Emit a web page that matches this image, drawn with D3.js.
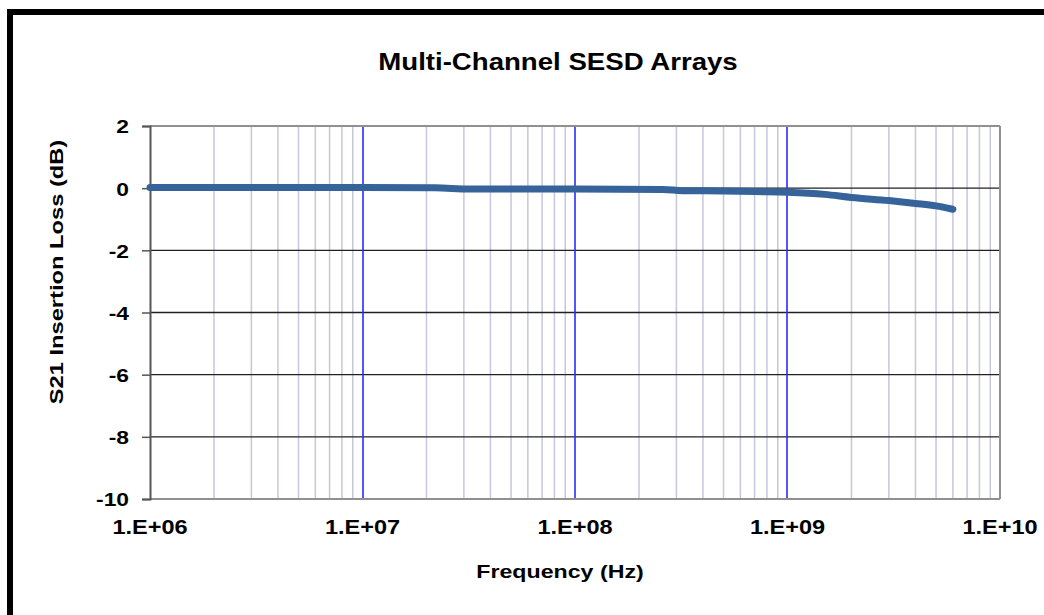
<!DOCTYPE html>
<html>
<head>
<meta charset="utf-8">
<script src="https://cdn.jsdelivr.net/npm/d3@7"></script>
<style>
  body { margin: 0; background: #fff; }
  text { font-family: Arial, "Liberation Sans", sans-serif; font-weight: bold; fill: #000; }
</style>
</head>
<body>
<script>
var width = 1044;
var height = 615;

// chart data
var freq = [1e6, 2e6, 5e6, 1e7, 2.2e7, 3.2e7, 5e7, 1e8, 2.6e8, 3.2e8, 5e8, 7e8, 1e9, 1.5e9, 2e9, 3e9, 4e9, 5e9, 6e9];
var s21 = [0.02, 0.02, 0.02, 0.02, 0.01, -0.03, -0.03, -0.03, -0.04, -0.08, -0.09, -0.11, -0.13, -0.2, -0.3, -0.4, -0.49, -0.57, -0.68];
var yTicks = [2, 0, -2, -4, -6, -8, -10];
var xTicks = [1e6, 1e7, 1e8, 1e9, 1e10];
var xTickLabels = ["1.E+06", "1.E+07", "1.E+08", "1.E+09", "1.E+10"];

// plot area edges
var pLeft = 150, pRight = 1000, pTop = 126, pBottom = 499;

var svg = d3.select("body")
  .append("svg")
  .attr("width", width)
  .attr("height", height);

// stretch text horizontally like the picture
function stretch(sel, k) {
  sel.each(function() {
    var len = this.getComputedTextLength();
    d3.select(this).attr("textLength", len * k).attr("lengthAdjust", "spacingAndGlyphs");
  });
}

// outer frame
svg.append("rect")
  .attr("x", 10).attr("y", 12)
  .attr("width", 1200).attr("height", 800)
  .attr("fill", "#fff")
  .attr("stroke", "#000")
  .attr("stroke-width", 6);

var x = d3.scaleLog().domain([1e6, 1e10]).range([pLeft, pRight]);
var y = d3.scaleLinear().domain([-10, 2]).range([pBottom, pTop]);

// minor vertical gridlines
var minor = [];
[1e6, 1e7, 1e8, 1e9].forEach(function(d) {
  for (var i = 2; i <= 9; i++) minor.push(d * i);
});
svg.selectAll("line.minor")
  .data(minor)
  .enter()
  .append("line")
  .attr("class", "minor")
  .attr("x1", function(d) { return x(d); })
  .attr("x2", function(d) { return x(d); })
  .attr("y1", pTop).attr("y2", pBottom)
  .attr("stroke", "#c6c6dc")
  .attr("stroke-width", 1.5);

// horizontal gridlines
svg.selectAll("line.hgrid")
  .data([0, -2, -4, -6, -8])
  .enter()
  .append("line")
  .attr("class", "hgrid")
  .attr("x1", pLeft).attr("x2", pRight)
  .attr("y1", function(d) { return y(d); })
  .attr("y2", function(d) { return y(d); })
  .attr("stroke", "#202020")
  .attr("stroke-width", 1.3);

// decade lines
svg.selectAll("line.major")
  .data([1e7, 1e8, 1e9])
  .enter()
  .append("line")
  .attr("class", "major")
  .attr("x1", function(d) { return Math.round(x(d)); })
  .attr("x2", function(d) { return Math.round(x(d)); })
  .attr("y1", pTop).attr("y2", pBottom)
  .attr("stroke", "#2a2aff")
  .attr("stroke-width", 1.6);

// plot border
svg.append("line").attr("x1", pLeft).attr("x2", pRight).attr("y1", pTop).attr("y2", pTop)
  .attr("stroke", "#909090").attr("stroke-width", 2);
svg.append("line").attr("x1", pLeft).attr("x2", pRight).attr("y1", pBottom).attr("y2", pBottom)
  .attr("stroke", "#909090").attr("stroke-width", 2);
svg.append("line").attr("x1", pRight).attr("x2", pRight).attr("y1", pTop).attr("y2", pBottom)
  .attr("stroke", "#909090").attr("stroke-width", 2);

// y axis
var yAxis = svg.append("g")
  .attr("transform", "translate(" + pLeft + ",0)")
  .call(d3.axisLeft(y).tickValues(yTicks).tickSize(8).tickPadding(13)
    .tickFormat(function(d) { return String(d); }));
yAxis.select(".domain").attr("stroke", "#555").attr("stroke-width", 2);
yAxis.selectAll(".tick line").attr("stroke", "#555").attr("stroke-width", 1.5);
yAxis.selectAll(".tick text")
  .attr("font-size", 19)
  .attr("dy", "0.36em")
  .style("font-family", "Arial, 'Liberation Sans', sans-serif")
  .style("font-weight", "bold")
  .call(stretch, 1.2);

// x tick labels
svg.selectAll("text.xlab")
  .data(xTicks)
  .enter()
  .append("text")
  .attr("class", "xlab")
  .attr("x", function(d) { return x(d); })
  .attr("y", 534)
  .attr("text-anchor", "middle")
  .attr("font-size", 21)
  .text(function(d, i) { return xTickLabels[i]; })
  .call(stretch, 1.12);

// data line
var line = d3.line()
  .x(function(d, i) { return x(freq[i]); })
  .y(function(d) { return y(d); })
  .curve(d3.curveMonotoneX);

svg.append("path")
  .datum(s21)
  .attr("d", line)
  .attr("fill", "none")
  .attr("stroke", "#35639a")
  .attr("stroke-width", 7)
  .attr("stroke-linecap", "round")
  .attr("stroke-linejoin", "round");

// titles
svg.append("text")
  .attr("x", 558).attr("y", 70)
  .attr("text-anchor", "middle")
  .attr("font-size", 24)
  .text("Multi-Channel SESD Arrays")
  .call(stretch, 1.15);

svg.append("text")
  .attr("x", 560).attr("y", 577.5)
  .attr("text-anchor", "middle")
  .attr("font-size", 19)
  .text("Frequency (Hz)")
  .call(stretch, 1.22);

svg.append("text")
  .attr("transform", "translate(63,272) rotate(-90)")
  .attr("text-anchor", "middle")
  .attr("font-size", 18.5)
  .text("S21 Insertion Loss (dB)")
  .call(stretch, 1.28);
</script>
</body>
</html>
